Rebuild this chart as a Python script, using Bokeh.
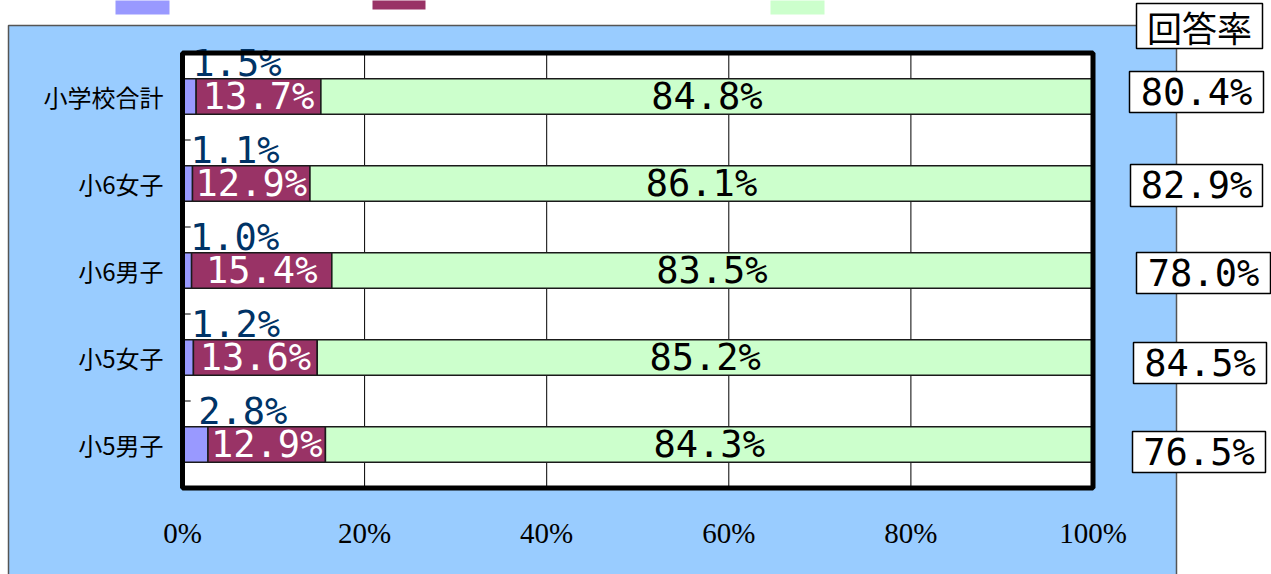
from bokeh.plotting import figure
from bokeh.models import Range1d
from bokeh.core.properties import value
from bokeh.embed import file_html
from bokeh.resources import INLINE

# Rows listed bottom to top
categories = ["小5男子", "小5女子", "小6男子", "小6女子", "小学校合計"]
share_a = [2.8, 1.2, 1.0, 1.1, 1.5]
share_b = [12.9, 13.6, 15.4, 12.9, 13.7]
share_c = [84.3, 85.2, 83.5, 86.1, 84.8]
response_rate = [76.5, 84.5, 78.0, 82.9, 80.4]
response_title = "回答率"
x_ticks = [0, 20, 40, 60, 80, 100]
series_colors = ["#9999FF", "#993366", "#CCFFCC"]

W, H = 1271, 574
PANEL_BLUE = "#99CCFF"
MONO = "DejaVu Sans Mono"
JP = "Noto Sans CJK JP"
SERIF = "Liberation Serif"

n = len(categories)

# page-pixel placement of the 0-100 % plotting area
PLOT_L, PLOT_R, PLOT_T, PLOT_B = 182.0, 1092.5, 52.5, 487.5
SX = (PLOT_R - PLOT_L) / 100.0
SY = (PLOT_B - PLOT_T) / n


def dx(px):
    return (px - PLOT_L) / SX


def dy(py):
    return (PLOT_B - py) / SY


# the frame spans the whole page so the panel, boxes and swatches share one scale
p = figure(width=W, height=H,
           x_range=Range1d(dx(0), dx(W)), y_range=Range1d(dy(H), dy(0)),
           output_backend="svg", toolbar_location=None,
           x_axis_location=None, y_axis_location=None,
           min_border=0, min_border_left=0, min_border_right=0,
           min_border_top=0, min_border_bottom=0)
p.grid.visible = False
p.outline_line_color = None
p.background_fill_color = "white"
p.border_fill_color = "white"

# blue chart panel
p.quad(left=dx(8), right=dx(1176), top=dy(25), bottom=dy(H + 20),
       fill_color=PANEL_BLUE, line_color="#555555", line_width=1.5)
# white plotting area
p.quad(left=0, right=100, bottom=0, top=n, fill_color="white", line_color=None)

# vertical gridlines
p.segment(x0=x_ticks, x1=x_ticks, y0=[0] * len(x_ticks), y1=[n] * len(x_ticks),
          line_color="black", line_width=1)

y_pos = [i + 0.5 for i in range(n)]
bar_h = 0.41

# stacked segments
left_b = share_a
right_b = [a + b for a, b in zip(share_a, share_b)]
right_c = [min(rb + c, 100) for rb, c in zip(right_b, share_c)]
p.hbar(y=y_pos, left=[0] * n, right=share_a, height=bar_h,
       fill_color=series_colors[0], line_color="#1a1a1a", line_width=1.5)
p.hbar(y=y_pos, left=left_b, right=right_b, height=bar_h,
       fill_color=series_colors[1], line_color="#1a1a1a", line_width=1.5)
p.hbar(y=y_pos, left=right_b, right=right_c, height=bar_h,
       fill_color=series_colors[2], line_color="#1a1a1a", line_width=1.5)

# small inner ticks at the row boundaries
bounds = list(range(1, n))
p.segment(x0=[0] * len(bounds), x1=[0.9] * len(bounds), y0=bounds, y1=bounds,
          line_color="black", line_width=1)

# value labels
p.text(x=[a / 2 for a in share_a], y=[y + 0.38 for y in y_pos],
       text=[f"{a:.1f}%" for a in share_a], text_font=value(MONO),
       text_font_size="37px", text_color="#003366",
       text_align="left", text_baseline="middle", x_offset=3)
p.text(x=[(l + r) / 2 for l, r in zip(left_b, right_b)], y=y_pos,
       text=[f"{b:.1f}%" for b in share_b], text_font=value(MONO),
       text_font_size="37px", text_color="white",
       text_align="center", text_baseline="middle")
p.text(x=[(l + r) / 2 for l, r in zip(right_b, right_c)], y=y_pos,
       text=[f"{c:.1f}%" for c in share_c], text_font=value(MONO),
       text_font_size="37px", text_color="black",
       text_align="center", text_baseline="middle")

# heavy border round the plotting area
p.quad(left=0, right=100, bottom=0, top=n, fill_color=None,
       line_color="black", line_width=5)

# x tick labels and row labels
p.text(x=x_ticks, y=[0] * len(x_ticks), text=[f"{t}%" for t in x_ticks],
       text_font=value(SERIF), text_font_size="29px", text_color="black",
       text_align="center", text_baseline="alphabetic", y_offset=45)
p.text(x=[0] * n, y=y_pos, text=categories,
       text_font=value(JP), text_font_size="24px", text_color="black",
       text_align="right", text_baseline="middle", x_offset=-19)

# legend swatches along the top edge
sw_l = [115, 372, 770]
sw_r = [169, 425, 824]
sw_b = [14, 9, 14]
p.quad(left=[dx(v) for v in sw_l], right=[dx(v) for v in sw_r],
       top=[dy(-4)] * 3, bottom=[dy(v) for v in sw_b],
       fill_color=series_colors, line_color=None)

# response-rate boxes, top to bottom
title_box = (1136, 1262, 3, 48)
rate_boxes = [(1129, 1263, 71, 112), (1130, 1262, 164, 206), (1136, 1270, 252, 293),
              (1133, 1266, 342, 383), (1132, 1265, 431, 472)]
rates_top_down = response_rate[::-1]

boxes = [title_box] + rate_boxes
p.quad(left=[dx(b[0]) for b in boxes], right=[dx(b[1]) for b in boxes],
       top=[dy(b[2]) for b in boxes], bottom=[dy(b[3]) for b in boxes],
       fill_color="white", line_color="black", line_width=1.5)
p.text(x=[dx((title_box[0] + title_box[1]) / 2)], y=[dy((title_box[2] + title_box[3]) / 2)],
       text=[response_title], text_font=value(JP), text_font_size="35px",
       text_color="black", text_align="center", text_baseline="middle")
p.text(x=[dx((b[0] + b[1]) / 2) for b in rate_boxes],
       y=[dy((b[2] + b[3]) / 2) for b in rate_boxes],
       text=[f"{r:.1f}%" for r in rates_top_down], text_font=value(MONO),
       text_font_size="37px", text_color="black",
       text_align="center", text_baseline="middle")

open("out.html", "w").write(file_html(p, INLINE))
